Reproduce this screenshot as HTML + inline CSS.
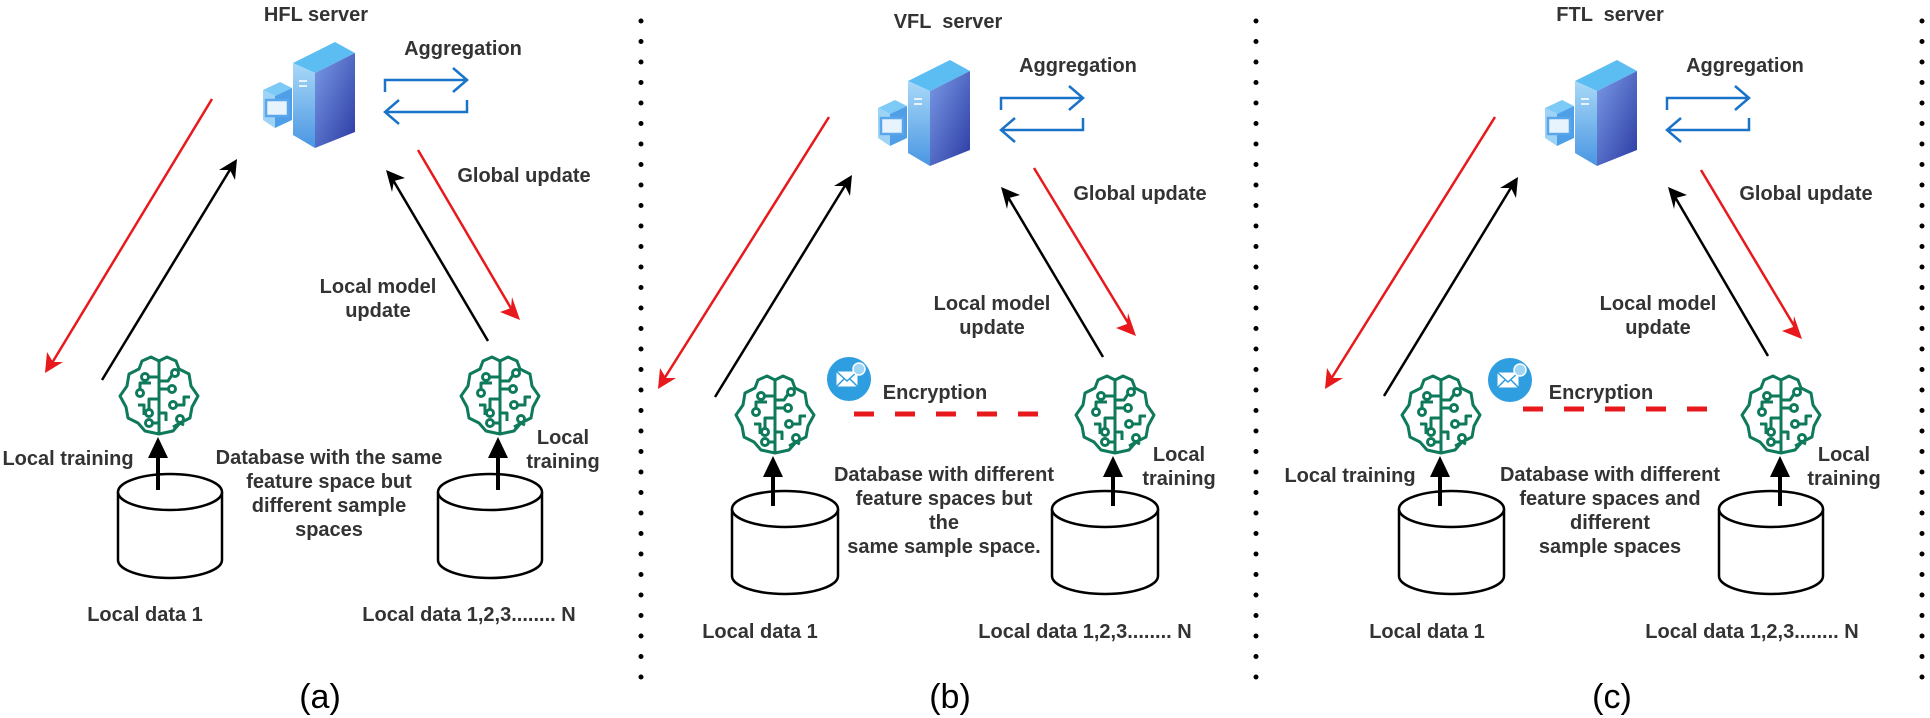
<!DOCTYPE html>
<html><head><meta charset="utf-8"><style>
html,body{margin:0;padding:0;background:#fff;}
svg{display:block;}
text{font-family:"Liberation Sans",Arial,sans-serif;}
.l{font-size:20px;font-weight:bold;fill:#333;}
.cap{font-size:34px;fill:#000;}
</style></head><body>
<svg width="1930" height="718" viewBox="0 0 1930 718" xmlns="http://www.w3.org/2000/svg">
<defs>
<linearGradient id="gt" x1="0" y1="0" x2="1" y2="1"><stop offset="0" stop-color="#7a9be6"/><stop offset="1" stop-color="#2b3aa3"/></linearGradient>
<linearGradient id="gs" x1="0" y1="0" x2="0" y2="1"><stop offset="0" stop-color="#a8d8f7"/><stop offset="1" stop-color="#4a96e3"/></linearGradient>
<g id="server">
  <polygon points="30,23 72,2 92,13 52,33" fill="#5bbdf2"/>
  <polygon points="30,23 52,33 52,108 30,95" fill="url(#gs)"/>
  <polygon points="52,33 92,13 92,92 52,108" fill="url(#gt)"/>
  <rect x="36" y="40" width="8" height="2" fill="#e6f3fd"/>
  <rect x="36" y="45" width="8" height="2" fill="#e6f3fd"/>
  <polygon points="0,50 17,42 29,48 12,56" fill="#7ccaf5"/>
  <polygon points="0,50 12,56 12,88 0,80" fill="#9fd3f6"/>
  <polygon points="12,56 29,48 29,80 12,88" fill="#4f9fe8"/>
  <rect x="3" y="60" width="22" height="16" fill="#e8f4fd" stroke="#5aa6ea" stroke-width="2.5"/>
</g>
<g id="agg" fill="none" stroke="#1a73c9" stroke-width="2.5">
  <path d="M0,12 V0 H82 M68,-12 L82,0 L68,12"/>
  <path d="M82,20 V32 H0 M14,20 L0,32 L14,44"/>
</g>
<g id="brain" fill="none" stroke="#0f7a5b" stroke-width="3" stroke-linejoin="round">
  <path d="M41,6 L33,2 L24,6 L21,14 L11,19 L9,31 L2,41 L8,52 L10,63 L20,68 L27,76 L41,79 L55,76 L62,68 L72,63 L74,52 L80,41 L73,31 L71,19 L61,14 L58,6 L49,2 Z"/>
  <path d="M41,6 V79"/>
  <circle cx="27" cy="22" r="3.5"/><path d="M30,22 H41"/>
  <circle cx="22" cy="38" r="3.5"/><path d="M22,34 V28 H33"/>
  <path d="M41,44 H31 V54"/><circle cx="31" cy="58" r="3.5"/>
  <circle cx="31" cy="68" r="3.5"/><path d="M34,68 H41"/>
  <path d="M20,50 H26 V60"/>
  <circle cx="57" cy="18" r="3.5"/><path d="M54,20 L50,26 H41"/>
  <circle cx="54" cy="34" r="3.5"/><path d="M41,34 H50"/>
  <circle cx="55" cy="50" r="3.5"/><path d="M59,50 H66 V42 H72"/>
  <path d="M41,58 H48 V66"/>
  <circle cx="62" cy="64" r="3.5"/><path d="M55,72 L62,68 L66,70"/>
</g>
<g id="env">
  <circle cx="0" cy="0" r="22" fill="#2f9ee0"/>
  <rect x="-13" y="-8" width="22" height="16" fill="#fff" stroke="#2f9ee0" stroke-width="1"/>
  <path d="M-13,-8 L-2,2 L9,-8 M-13,8 L-5,0 M9,8 L1,0" fill="none" stroke="#2f9ee0" stroke-width="1.5"/>
  <circle cx="10" cy="-10" r="6" fill="#9fd6f5" stroke="#fff" stroke-width="1.5"/>
</g>
</defs>

<line x1="641" y1="21" x2="641" y2="685" stroke="#000" stroke-width="5" stroke-linecap="round" stroke-dasharray="0 20.5"/>
<line x1="1256" y1="21" x2="1256" y2="685" stroke="#000" stroke-width="5" stroke-linecap="round" stroke-dasharray="0 20.5"/>
<line x1="1922" y1="21" x2="1922" y2="685" stroke="#000" stroke-width="5" stroke-linecap="round" stroke-dasharray="0 20.5"/>

<!-- ================= Panel A ================= -->
<text class="l" x="316" y="21" text-anchor="middle">HFL server</text>
<use href="#server" x="263" y="40"/>
<text class="l" x="463" y="55" text-anchor="middle" font-size="22">Aggregation</text>
<use href="#agg" x="385" y="80"/>
<g stroke-width="2.5" fill="none">
<line x1="212" y1="99" x2="52" y2="363" stroke="#e8191c"/>
<line x1="418" y1="150" x2="512" y2="310" stroke="#e8191c"/>
<line x1="102" y1="380" x2="231" y2="168" stroke="#000"/>
<line x1="488" y1="341" x2="393" y2="180" stroke="#000"/>
</g>
<polygon points="45,373 47,352 53,362 63,362" fill="#e8191c"/>
<polygon points="520,320 500,312 511,308 512,297" fill="#e8191c"/>
<polygon points="237,159 235,180 230,170 219,170" fill="#000"/>
<polygon points="386,170 405,178 394,181 392,192" fill="#000"/>
<text class="l" x="524" y="182" text-anchor="middle">Global update</text>
<text class="l" x="378" y="293" text-anchor="middle">Local model</text>
<text class="l" x="378" y="317" text-anchor="middle">update</text>
<use href="#brain" x="118" y="355"/>
<use href="#brain" x="459" y="355"/>
<text class="l" x="68" y="465" text-anchor="middle">Local training</text>
<text class="l" x="563" y="444" text-anchor="middle">Local</text>
<text class="l" x="563" y="468" text-anchor="middle">training</text>
<g fill="#fff" stroke="#000" stroke-width="2.5">
<path d="M118,492 A52,18 0 0 1 222,492 V560 A52,18 0 0 1 118,560 Z"/>
<path d="M118,492 A52,18 0 0 0 222,492"/>
<path d="M438,492 A52,18 0 0 1 542,492 V560 A52,18 0 0 1 438,560 Z"/>
<path d="M438,492 A52,18 0 0 0 542,492"/>
</g>
<g stroke="#000" stroke-width="4"><line x1="158" y1="490" x2="158" y2="455"/><line x1="498" y1="490" x2="498" y2="455"/></g>
<polygon points="158,437 148,458 168,458" fill="#000"/>
<polygon points="498,437 488,458 508,458" fill="#000"/>
<text class="l" x="329" y="464" text-anchor="middle">Database with the same</text>
<text class="l" x="329" y="488" text-anchor="middle">feature space but</text>
<text class="l" x="329" y="512" text-anchor="middle">different sample</text>
<text class="l" x="329" y="536" text-anchor="middle">spaces</text>
<text class="l" x="145" y="621" text-anchor="middle">Local data 1</text>
<text class="l" x="469" y="621" text-anchor="middle">Local data 1,2,3........ N</text>
<text class="cap" x="320" y="708" text-anchor="middle">(a)</text>

<!-- ================= Panel B ================= -->
<text class="l" x="948" y="28" text-anchor="middle" xml:space="preserve">VFL  server</text>
<use href="#server" x="878" y="58"/>
<text class="l" x="1078" y="72" text-anchor="middle" font-size="22">Aggregation</text>
<use href="#agg" x="1001" y="98"/>
<g stroke-width="2.5" fill="none">
<line x1="829" y1="117" x2="664" y2="379" stroke="#e8191c"/>
<line x1="1034" y1="168" x2="1130" y2="326" stroke="#e8191c"/>
<line x1="715" y1="397" x2="846" y2="184" stroke="#000"/>
<line x1="1103" y1="357" x2="1008" y2="197" stroke="#000"/>
</g>
<polygon points="658,389 660,368 666,378 676,378" fill="#e8191c"/>
<polygon points="1136,336 1116,328 1127,324 1128,313" fill="#e8191c"/>
<polygon points="852,175 850,196 845,186 834,186" fill="#000"/>
<polygon points="1001,187 1020,195 1009,198 1007,209" fill="#000"/>
<text class="l" x="1140" y="200" text-anchor="middle">Global update</text>
<text class="l" x="992" y="310" text-anchor="middle">Local model</text>
<text class="l" x="992" y="334" text-anchor="middle">update</text>
<use href="#brain" x="734" y="374"/>
<use href="#brain" x="1074" y="374"/>
<use href="#env" x="849" y="379"/>
<text class="l" x="935" y="399" text-anchor="middle">Encryption</text>
<line x1="854" y1="414" x2="1040" y2="414" stroke="#e8191c" stroke-width="5" stroke-dasharray="20 21"/>
<text class="l" x="1179" y="461" text-anchor="middle">Local</text>
<text class="l" x="1179" y="485" text-anchor="middle">training</text>
<g fill="#fff" stroke="#000" stroke-width="2.5">
<path d="M732,509 A53,18 0 0 1 838,509 V576 A53,18 0 0 1 732,576 Z"/>
<path d="M732,509 A53,18 0 0 0 838,509"/>
<path d="M1052,509 A53,18 0 0 1 1158,509 V576 A53,18 0 0 1 1052,576 Z"/>
<path d="M1052,509 A53,18 0 0 0 1158,509"/>
</g>
<g stroke="#000" stroke-width="4"><line x1="773" y1="506" x2="773" y2="474"/><line x1="1113" y1="506" x2="1113" y2="474"/></g>
<polygon points="773,456 763,477 783,477" fill="#000"/>
<polygon points="1113,456 1103,477 1123,477" fill="#000"/>
<text class="l" x="944" y="481" text-anchor="middle">Database with different</text>
<text class="l" x="944" y="505" text-anchor="middle">feature spaces but</text>
<text class="l" x="944" y="529" text-anchor="middle">the</text>
<text class="l" x="944" y="553" text-anchor="middle">same sample space.</text>
<text class="l" x="760" y="638" text-anchor="middle">Local data 1</text>
<text class="l" x="1085" y="638" text-anchor="middle">Local data 1,2,3........ N</text>
<text class="cap" x="950" y="708" text-anchor="middle">(b)</text>

<!-- ================= Panel C ================= -->
<text class="l" x="1610" y="21" text-anchor="middle" xml:space="preserve">FTL  server</text>
<use href="#server" x="1545" y="58"/>
<text class="l" x="1745" y="72" text-anchor="middle" font-size="22">Aggregation</text>
<use href="#agg" x="1667" y="98"/>
<g stroke-width="2.5" fill="none">
<line x1="1495" y1="117" x2="1331" y2="379" stroke="#e8191c"/>
<line x1="1701" y1="170" x2="1796" y2="329" stroke="#e8191c"/>
<line x1="1384" y1="396" x2="1512" y2="186" stroke="#000"/>
<line x1="1768" y1="356" x2="1675" y2="197" stroke="#000"/>
</g>
<polygon points="1325,389 1327,368 1333,378 1343,378" fill="#e8191c"/>
<polygon points="1802,339 1782,331 1793,327 1794,316" fill="#e8191c"/>
<polygon points="1518,177 1516,198 1511,188 1500,188" fill="#000"/>
<polygon points="1668,187 1687,195 1676,198 1674,209" fill="#000"/>
<text class="l" x="1806" y="200" text-anchor="middle">Global update</text>
<text class="l" x="1658" y="310" text-anchor="middle">Local model</text>
<text class="l" x="1658" y="334" text-anchor="middle">update</text>
<use href="#brain" x="1400" y="374"/>
<use href="#brain" x="1740" y="374"/>
<use href="#env" x="1510" y="380"/>
<text class="l" x="1601" y="399" text-anchor="middle">Encryption</text>
<line x1="1523" y1="409" x2="1710" y2="409" stroke="#e8191c" stroke-width="5" stroke-dasharray="20 21"/>
<text class="l" x="1350" y="482" text-anchor="middle">Local training</text>
<text class="l" x="1844" y="461" text-anchor="middle">Local</text>
<text class="l" x="1844" y="485" text-anchor="middle">training</text>
<g fill="#fff" stroke="#000" stroke-width="2.5">
<path d="M1399,509 A52.5,18 0 0 1 1504,509 V576 A52.5,18 0 0 1 1399,576 Z"/>
<path d="M1399,509 A52.5,18 0 0 0 1504,509"/>
<path d="M1719,509 A52,18 0 0 1 1823,509 V576 A52,18 0 0 1 1719,576 Z"/>
<path d="M1719,509 A52,18 0 0 0 1823,509"/>
</g>
<g stroke="#000" stroke-width="4"><line x1="1440" y1="506" x2="1440" y2="474"/><line x1="1780" y1="506" x2="1780" y2="474"/></g>
<polygon points="1440,456 1430,477 1450,477" fill="#000"/>
<polygon points="1780,456 1770,477 1790,477" fill="#000"/>
<text class="l" x="1610" y="481" text-anchor="middle">Database with different</text>
<text class="l" x="1610" y="505" text-anchor="middle">feature spaces and</text>
<text class="l" x="1610" y="529" text-anchor="middle">different</text>
<text class="l" x="1610" y="553" text-anchor="middle">sample spaces</text>
<text class="l" x="1427" y="638" text-anchor="middle">Local data 1</text>
<text class="l" x="1752" y="638" text-anchor="middle">Local data 1,2,3........ N</text>
<text class="cap" x="1612" y="708" text-anchor="middle">(c)</text>
</svg>
</body></html>
